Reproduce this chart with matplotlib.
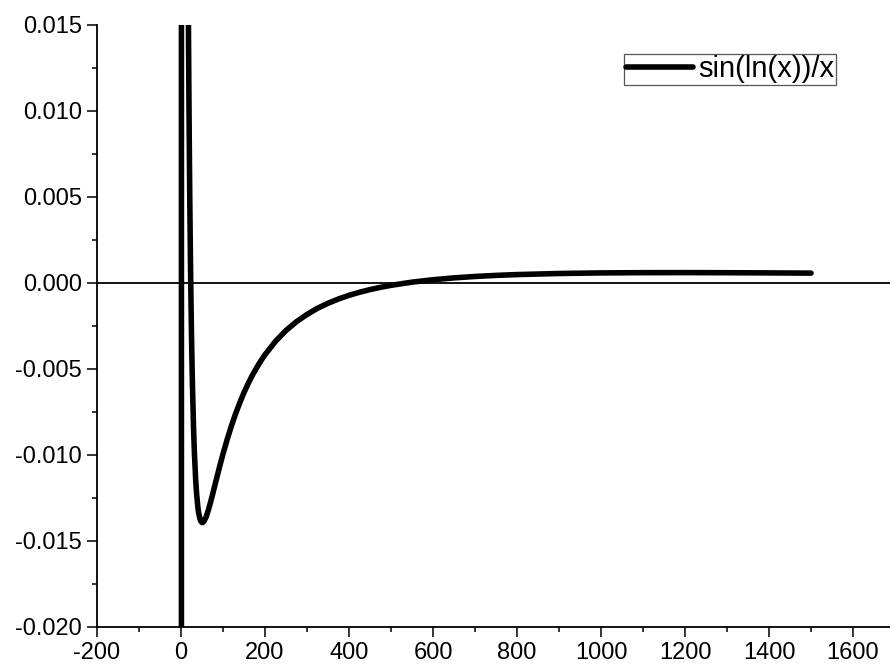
import matplotlib
matplotlib.use("Agg")
import matplotlib.pyplot as plt
from matplotlib.ticker import MultipleLocator, FormatStrFormatter

plt.rcParams['font.family'] = ['Liberation Sans', 'DejaVu Sans']
plt.rcParams['axes.unicode_minus'] = False

# values (curve sin(ln(x))/x)
x_vals = [0.3, 0.5, 0.8, 1.0, 1.5, 2.19, 5, 10, 12, 15, 16, 17, 18, 19, 20, 21, 22, 23,
          25, 27, 30, 32, 35, 37, 40, 42, 45, 47, 50, 52, 55, 60, 65, 70, 75, 80, 85,
          90, 95, 100, 110, 120, 130, 140, 150, 160, 170, 180, 190, 200, 225, 250, 275,
          300, 325, 350, 375, 400, 425, 450, 475, 500, 550, 600, 650, 700, 750, 800,
          900, 1000, 1100, 1200, 1300, 1400, 1500]
y_vals = [-3.13, -1.27, -0.277, 0.0, 0.263, 0.32, 0.1999, 0.0744, 0.0509, 0.0279, 0.02254,
          0.01785, 0.0138, 0.01031, 0.00727, 0.004617, 0.0023, 0.000265,
          -0.00309, -0.00569, -0.00856, -0.00995, -0.01149, -0.01222, -0.01301, -0.01337,
          -0.01371, -0.01384, -0.01393, -0.01392, -0.01384, -0.01359, -0.01321, -0.01278,
          -0.01231, -0.01182, -0.01134, -0.01086, -0.01039, -0.00994, -0.009091, -0.00831,
          -0.00760, -0.00696, -0.00637, -0.00584, -0.00536, -0.00493, -0.00453, -0.00417,
          -0.00339, -0.00276, -0.00225, -0.00183, -0.00147, -0.00118, -0.000930,
          -0.000719, -0.000539, -0.000385, -0.000252, -0.000137, 0.0000486, 0.000189,
          0.000296, 0.000378, 0.000441, 0.000488, 0.000551, 0.000585, 0.000599,
          0.000602, 0.000596, 0.000586, 0.000572]
series_label = "sin(ln(x))/x"

fig = plt.figure(figsize=(8.9, 6.66), dpi=100)
ax = fig.add_axes([0.109, 0.0586, 0.891, 0.9039])

ax.plot(x_vals, y_vals, color='black', lw=4, solid_capstyle='round',
        solid_joinstyle='round', label=series_label, zorder=3)
ax.axhline(0, color='black', lw=1.3, zorder=2)

ax.set_xlim(-200, 1688)
ax.set_ylim(-0.020, 0.015)

ax.xaxis.set_major_locator(MultipleLocator(200))
ax.xaxis.set_minor_locator(MultipleLocator(100))
ax.yaxis.set_major_locator(MultipleLocator(0.005))
ax.yaxis.set_minor_locator(MultipleLocator(0.0025))
ax.xaxis.set_major_formatter(FormatStrFormatter('%d'))
ax.yaxis.set_major_formatter(FormatStrFormatter('%.3f'))

for s in ['top', 'right']:
    ax.spines[s].set_visible(False)
for s in ['left', 'bottom']:
    ax.spines[s].set_linewidth(1.3)

ax.tick_params(which='major', direction='out', length=7, width=1.1, labelsize=17, pad=4)
ax.tick_params(which='minor', direction='out', length=3.6, width=1.1)

leg = ax.legend(loc='upper right', bbox_to_anchor=(0.932, 0.952), borderaxespad=0,
                fontsize=21, handlelength=2.3, handletextpad=0.2, borderpad=0.05,
                fancybox=False, framealpha=1, edgecolor='#555555')
leg.get_frame().set_linewidth(0.9)

fig.savefig("out.png", dpi=100)
